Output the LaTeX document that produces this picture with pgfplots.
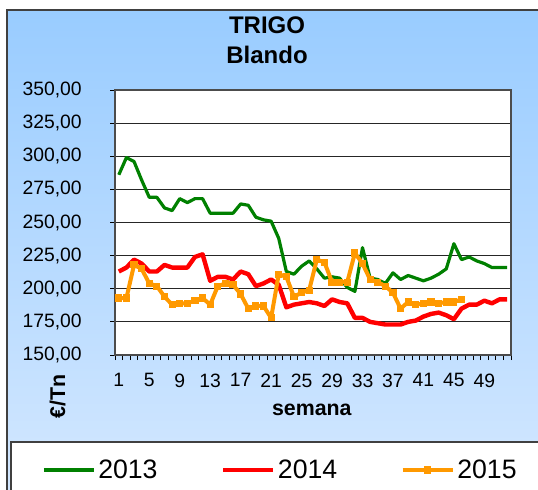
\documentclass[border=0pt]{standalone}
\usepackage{pgfplots}
\usepackage{pgfplotstable}
\pgfplotsset{compat=1.18}
\usepackage{fontspec}
\setmainfont{Liberation Sans}
\definecolor{c13}{RGB}{0,128,0}
\definecolor{c14}{RGB}{255,0,0}
\definecolor{c15}{RGB}{255,153,0}
\definecolor{bgtop}{RGB}{153,204,255}
\definecolor{bgbot}{RGB}{212,232,255}

\pgfplotstableread{
w v
1 286
2 299
3 296
4 282
5 269
6 269
7 261
8 259
9 268
10 265
11 268
12 268
13 257
14 257
15 257
16 257
17 264
18 263
19 254
20 252
21 251
22 238
23 213
24 211
25 217
26 221
27 215
28 208
29 209
30 208
31 201
32 198
33 231
34 208
35 207
36 204
37 212
38 207
39 210
40 208
41 206
42 208
43 211
44 215
45 234
46 222
47 224
48 221
49 219
50 216
51 216
52 216
}\tabA

\pgfplotstableread{
w v
1 213
2 216
3 222
4 219
5 213
6 213
7 218
8 216
9 216
10 216
11 224
12 226
13 206
14 209
15 209
16 207
17 213
18 211
19 202
20 204
21 207
22 203
23 186
24 188
25 189
26 190
27 189
28 187
29 192
30 190
31 189
32 178
33 178
34 175
35 174
36 173
37 173
38 173
39 175
40 176
41 179
42 181
43 182
44 180
45 177
46 185
47 188
48 188
49 191
50 189
51 192
52 192
}\tabB

\pgfplotstableread{
w v
1 193
2 193
3 218
4 215
5 204
6 202
7 194
8 188
9 189
10 189
11 191
12 193
13 188
14 202
15 204
16 203
17 196
18 185
19 187
20 187
21 178
22 211
23 209
24 194
25 197
26 199
27 222
28 220
29 205
30 205
31 205
32 227
33 219
34 207
35 205
36 202
37 197
38 185
39 190
40 188
41 189
42 190
43 189
44 190
45 190
46 192
}\tabC

\begin{document}
\begin{tikzpicture}[x=0.75pt,y=0.75pt]
\useasboundingbox (0,0) rectangle (538,489);
\fill[white] (0,0) rectangle (538,489);
\shade[top color=bgtop,bottom color=bgbot] (7,-10) rectangle (548,479);
\draw[black!75,line width=1pt] (7,-10) rectangle (548,479);
\filldraw[fill=white,draw=black!75,line width=0.8pt] (11,-10) rectangle (548,47);
\begin{axis}[
  at={(86.25pt,100.5pt)}, anchor=south west,
  scale only axis, width=297pt, height=198.75pt,
  xmin=0.5, xmax=52.5, ymin=150, ymax=350,
  ytick={150,175,...,350},
  xtick={1,5,...,49},
  minor xtick={0.5,1.5,...,52.5},
  major x tick style={draw=none},
  tick align=outside,
  major tick length=3.75pt, minor tick length=3.75pt,
  xtick pos=left, ytick pos=left,
  ymajorgrids,
  grid style={black!85, line width=0.8pt},
  axis line style={black!70, line width=1.1pt},
  tick style={black, line width=0.6pt},
  axis background/.style={fill=white},
  /pgf/number format/assume math mode=true,
  yticklabel style={/pgf/number format/.cd, fixed, fixed zerofill, precision=2, use comma, 1000 sep={}},
  ticklabel style={font=\fontsize{14.5}{16}\selectfont, inner sep=0pt},
  yticklabel shift=21pt,
  xticklabel shift=10pt,
  title={TRIGO\\Blando},
  title style={at={(axis description cs:0.384,1.156)}, anchor=center, align=center, font=\bfseries\fontsize{18}{22.5}\selectfont},
  xlabel={semana},
  xlabel style={at={(axis description cs:0.497,-0.206)}, anchor=center, font=\bfseries\fontsize{16}{19}\selectfont},
  ylabel={€/Tn},
  ylabel style={at={(axis description cs:-0.145,-0.157)}, anchor=center, font=\bfseries\fontsize{16}{19}\selectfont},
  legend columns=3,
  legend cell align=left,
  legend style={at={(axis description cs:-0.184,-0.434)}, anchor=west, draw=none, fill=none, inner sep=0pt,
    font=\fontsize{20}{24}\selectfont,
    /tikz/every even column/.append style={column sep=45.5pt}},
  legend image code/.code={\draw[#1, mark repeat=2, mark phase=2] plot coordinates {(0pt,0pt) (18.75pt,0pt) (37.5pt,0pt)};},
]
\addplot[c13, line width=2.4pt, no markers, line join=round] table[x=w,y=v] {\tabA};
\addlegendentry{2013}
\addplot[c14, line width=3.3pt, no markers, line join=round] table[x=w,y=v] {\tabB};
\addlegendentry{2014}
\addplot[c15, line width=3pt, mark=square*, mark size=2.3pt, mark options={solid, fill=c15, draw=c15, line width=0pt}, line join=round] table[x=w,y=v] {\tabC};
\addlegendentry{2015}
\end{axis}
\end{tikzpicture}
\end{document}
